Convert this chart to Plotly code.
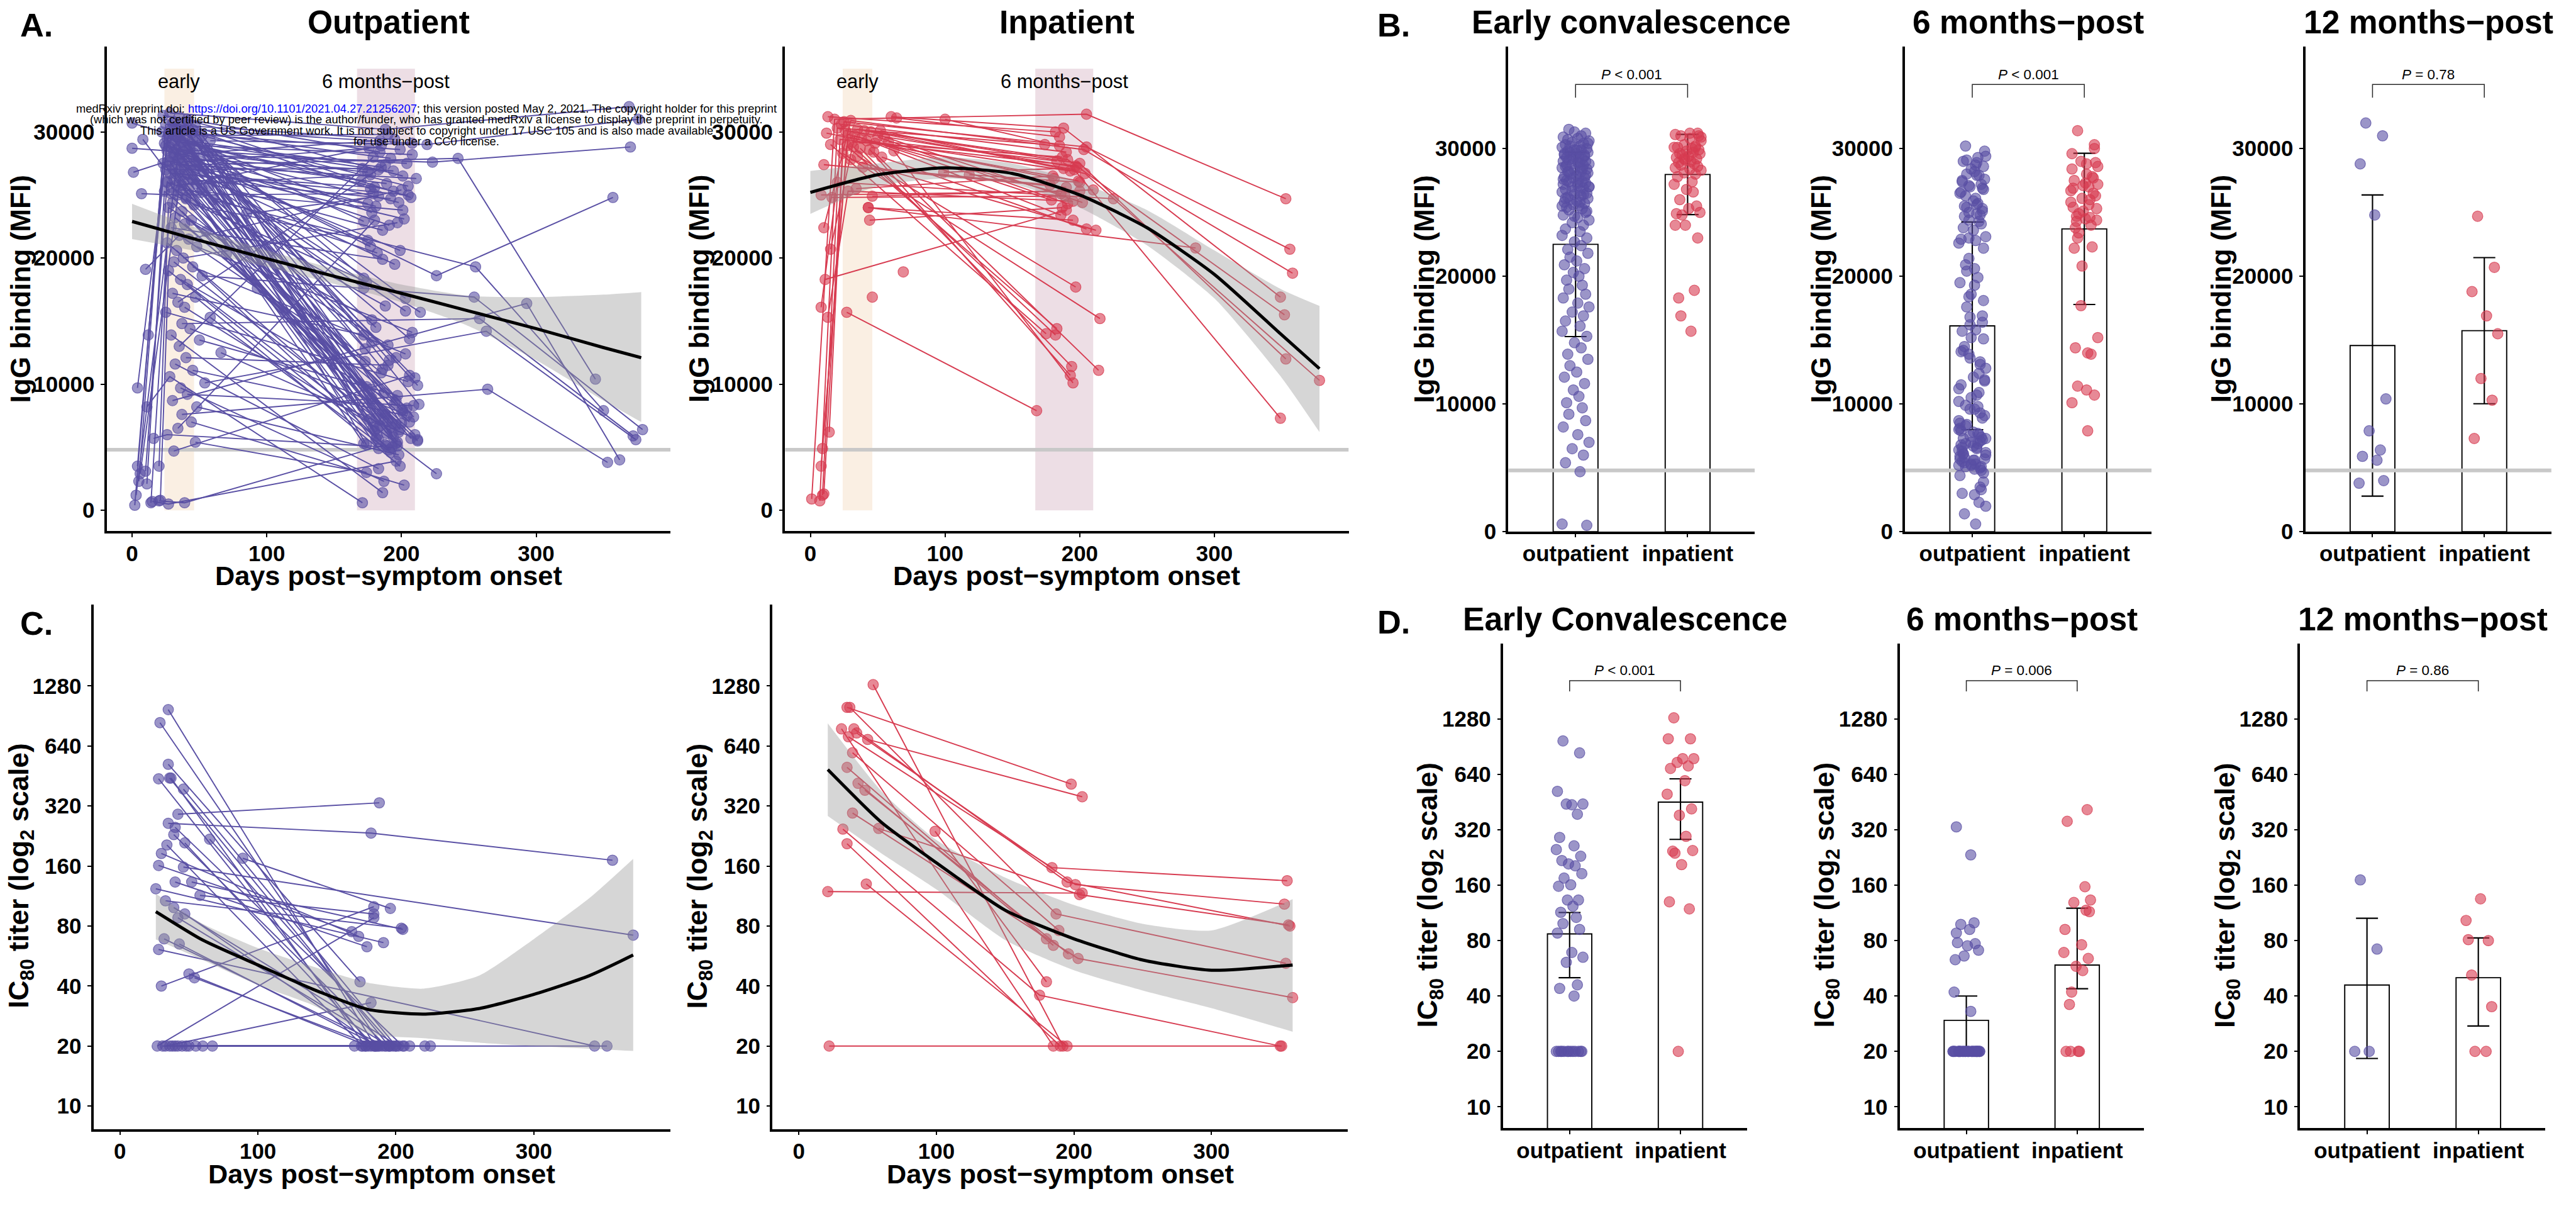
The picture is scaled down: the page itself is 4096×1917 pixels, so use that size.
import plotly.graph_objects as go

# ----------------------------------------------------------------------------
# IgG binding (MFI), outpatients: one entry per subject
# ----------------------------------------------------------------------------
op_igg_early_day = [
    28, 35, 42, 31, 25, 38, 47, 33, 29, 40,
    22, 36, 44, 30, 27, 52, 34, 39, 26, 45,
    32, 58, 37, 24, 43, 30, 49, 35, 28, 41,
    33, 55, 26, 38, 46, 31, 36, 63, 29, 42,
    34, 27, 50, 37, 23, 44, 32, 68, 39, 30,
    47, 25, 35, 53, 28, 41, 36, 75, 31, 45,
    38, 26, 48, 33, 57, 29, 42, 36, 24, 51,
    34, 40, 60, 30, 46, 27, 37, 85, 32, 44,
    39, 29, 55, 35, 42, 26, 48, 33, 70, 38,
    31, 45, 27, 52, 36, 41, 93, 30, 47, 34,
    39, 25, 58, 37, 43, 29, 50, 35, 66, 40,
    32, 45, 28, 54, 36, 41, 30, 48, 37, 44,
    34, 26, 47, 31, 39, 27,
    23, 41, 30, 36, 45, 27, 33, 50, 38, 25,
    43, 31, 56, 35, 28, 47, 39, 32, 44, 26,
    37, 52, 29, 40]
op_igg_early = [
    31500, 31200, 30900, 30800, 30600, 30500, 30400, 30300, 30200, 30100,
    30000, 29900, 29900, 29800, 29700, 29700, 29600, 29500, 29500, 29400,
    29300, 29300, 29200, 29100, 29000, 29000, 28900, 28800, 28800, 28700,
    28600, 28500, 28500, 28400, 28300, 28200, 28200, 28100, 28000, 27900,
    27800, 27700, 27700, 27600, 27500, 27400, 27400, 27300, 27200, 27100,
    27000, 27000, 26900, 26800, 26700, 26600, 26500, 26400, 26300, 26200,
    26100, 26000, 25900, 25800, 25700, 25600, 25500, 25400, 25300, 25200,
    25000, 24800, 24600, 24400, 24200, 24000, 23700, 23500, 23200, 23000,
    22700, 22400, 22100, 21800, 21500, 21200, 20900, 20600, 20300, 20000,
    19700, 19300, 19000, 18600, 18300, 17900, 17600, 17200, 16900, 16500,
    16100, 15700, 15300, 14800, 14400, 13900, 13500, 13000, 12500, 12100,
    11600, 11100, 10600, 10100, 9700, 9200, 8700, 8200, 7600, 7000,
    6500, 6000, 5400, 4700, 600, 500,
    31300, 31000, 30700, 30400, 30200, 29900, 29600, 29400, 29200, 28900,
    28700, 28400, 28200, 27900, 27600, 27300, 27000, 26700, 26400, 26100,
    25800, 25500, 25100, 24700]
op_igg_6m_day = [
    188, 176, 201, 183, 195, 172, 207, 180, 192, 186,
    199, 174, 205, 181, 190, 213, 178, 196, 185, 203,
    170, 219, 188, 177, 194, 182, 208, 173, 198, 187,
    204, 179, 191, 175, 210, 184, 197, 223, 172, 189,
    200, 181, 206, 176, 193, 242, 211, 178, 195, 183,
    202, 171, 190, 214, 180, 199, 186, 226, 174, 192,
    207, 182, 196, 177, 209, 188, 172, 201, 185, 193,
    179, 204, 255, 198, 175, 190, 212, 183, 196, 178,
    206, 186, 194, 173, 200, 184, 208, 191, 177, 197,
    181, 203, 189, 254, 195, 226, 210, 172, 199, 188,
    182, 205, 192, 258, 201, 186, 197, 179, 212, 190,
    183, 204, 171, 263, 187, 209, 293, 198, 264, 202,
    180, 193, 174, 206, 188, 196,
    184, 200, 177, 191, 208, 186, 172, 197, 183, 203,
    189, 175, 212, 194, 181, 199, 187, 205, 178, 192,
    185, 201, 174, 196]
op_igg_6m = [
    30200, 7200, 26500, 5600, 29400, 18400, 24800, 6300, 27900, 11200,
    28600, 5200, 25700, 14500, 29800, 8400, 23600, 6800, 27200, 16800,
    26100, 29000, 7600, 20900, 25300, 5900, 28200, 12800, 24400, 9300,
    27500, 6600, 22600, 26800, 10500, 29300, 5400, 27600, 17600, 25900,
    7900, 24100, 13600, 28700, 6100, 27900, 26300, 8900, 19500, 4900,
    23100, 27100, 7100, 15700, 25600, 6400, 22200, 18600, 9800, 24700,
    5700, 20400, 12100, 26600, 7400, 16200, 5300, 23800, 10900, 6900,
    25100, 8100, 19300, 6200, 21400, 13100, 5500, 24900, 8700, 15100,
    7000, 19900, 5800, 11800, 25400, 6700, 14100, 4800, 9600, 22800,
    7300, 12400, 5100, 16900, 8500, 2900, 6000, 13900, 3500, 27400,
    6500, 10200, 4600, 15200, 7700, 1400, 9100, 28000, 5600, 11500,
    3300, 7500, 600, 14200, 2300, 8300, 16400, 4400, 9600, 2000,
    23000, 5000, 3000, 10700, 5200, 3900,
    28400, 6900, 25500, 11900, 29100, 7800, 22900, 5100, 27000, 15800,
    6100, 24300, 9900, 26900, 5700, 20600, 7300, 25000, 13300, 6600,
    28900, 8000, 18100, 5300]
# samples taken in the first days after symptom onset (subject index)
op_igg_pre_subject = [4, 11, 23, 44, 61, 68, 75, 85, 92, 121, 112, 83, 32, 41, 10, 51, 70, 14, 18, 56, 125, 124]
op_igg_pre_day = [2, 3, 4, 5, 10, 11, 20, 14, 21, 16, 11, 10, 0, 1, 0, 8, 7, 4, 12, 6, 15, 20]
op_igg_pre = [400, 1200, 3500, 2300, 3100, 2100, 3500, 600, 800, 5700, 8200, 19100,
              28700, 26800, 30700, 29400, 25100, 9700, 13900, 2900, 700, 750]
# 12-month follow-up (subject index)
op_igg_12m_subject = [0, 21, 37, 57, 45, 72, 93, 103, 113, 118, 116]
op_igg_12m_day = [369, 376, 370, 357, 344, 350, 379, 372, 374, 353, 362]
op_igg_12m = [32000, 31000, 28800, 24800, 10400, 7900, 6400, 5900, 5600, 3800, 4000]

# ----------------------------------------------------------------------------
# IgG binding (MFI), inpatients
# ----------------------------------------------------------------------------
ip_igg_early_day = [18, 60, 64, 25, 30, 20, 35, 40, 45, 52, 12, 28, 33, 50, 55, 38, 22, 42, 58, 48,
                    15, 27, 32, 37, 44, 62, 47, 24, 35, 53, 30, 10, 39, 100, 99, 118, 20, 8, 16, 28,
                    46, 34, 43, 27, 11, 69, 46, 44, 43, 13, 23, 31, 26]
ip_igg_early = [31000, 31200, 31100, 30800, 30900, 30300, 30200, 30100, 30000, 30100,
                29900, 29800, 29700, 29600, 29600, 29500, 29400, 29300, 29200, 29100,
                29000, 28900, 28800, 28700, 28600, 28500, 28400, 28300, 28100, 28000,
                27800, 27400, 27200, 31000, 26800, 26600, 26000, 25000, 24800, 25300,
                24900, 25500, 24000, 15700, 18300, 18900, 16900, 23000, 24000, 31200,
                30600, 29200, 30100]
ip_igg_6m_day = [205, 188, 185, 205, 203, 174, 191, 200, 196, 204, 181, 186, 179, 191, 202, 186, 197, 193, 183, 199,
                 175, 183, 182, 194, 193, 195, 214, 215, 197, 205, 212, 190, 178, 185, 188, 200, 225, 200, 189, 195,
                 210, 180, 286, 168, 190, None, None, 187, 195, 182, 190, 187, 198]
ip_igg_6m = [31400, 30300, 29600, 28800, 28600, 29000, 27800, 27500, 27000, 26700,
             26300, 25100, 24600, 24300, 24400, 23400, 27300, 26900, 27700, 26100,
             14000, 14400, 13900, 11400, 10700, 10100, 11100, 15200, 17700, 22300,
             22200, 25600, 25800, 28900, 27100, 26000, 24700, 25300, 24900, 24500,
             25400, 26500, 20800, 7900, 23800, None, None, 24000, 23000, 30000,
             28400, 28000, 27200]
ip_igg_pre_subject = [0, 5, 16, 3, 11, 21, 27, 36, 39, 12, 4]
ip_igg_pre_day = [1, 7, 9, 10, 8, 9, 14, 8, 13, 15, 10]
ip_igg_pre = [900, 750, 1200, 1300, 3500, 4900, 6200, 16100, 15300, 20700, 22400]
ip_igg_12m_subject = [0, 3, 4, 1, 6, 7, 9, 8]
ip_igg_12m_day = [353, 356, 358, 349, 352, 353, 378, 349]
ip_igg_12m = [24700, 20700, 18800, 16900, 15500, 12000, 10300, 7300]

IGG_CUTOFF = 4800

# smoothed trend with confidence band
op_igg_fit_day = [0, 50, 100, 150, 200, 250, 300, 350, 378]
op_igg_fit = [22900, 21400, 19950, 18550, 17200, 15800, 14400, 12900, 12100]
op_igg_fit_hi = [24300, 22300, 20600, 19150, 17900, 17000, 16900, 17100, 17300]
op_igg_fit_lo = [21500, 20500, 19300, 17950, 16500, 14600, 11900, 8700, 7000]
ip_igg_fit_day = [0, 50, 100, 150, 200, 250, 300, 350, 378]
ip_igg_fit = [25200, 26600, 27150, 26700, 25000, 22400, 18700, 13900, 11230]
ip_igg_fit_hi = [26900, 27500, 28000, 27500, 26000, 23800, 20600, 17500, 16200]
ip_igg_fit_lo = [23500, 25700, 26300, 25900, 24000, 21000, 16800, 10500, 6200]

# group summaries: mean and SD per visit (outpatient, inpatient)
igg_mean_early = [22500, 27970]
igg_sd_early = [7220, 3140]
igg_mean_6m = [16120, 23710]
igg_sd_6m = [8130, 5920]
igg_mean_12m = [14580, 15740]
igg_sd_12m = [11790, 5720]
igg_p = ["<i>P</i> &lt; 0.001", "<i>P</i> &lt; 0.001", "<i>P</i> = 0.78"]

# ----------------------------------------------------------------------------
# IC80 neutralization titer
# ----------------------------------------------------------------------------
op_ic_early_day = [35, 29, 35, 28, 36, 37, 46, 42, 35, 40, 39, 47, 34, 65, 30, 89, 28, 46, 40, 52,
                   26, 58, 33, 39, 47, 42, 32, 43, 28, 50, 54, 30, 27, 33, 40, 45, 50, 55, 60, 67,
                   31, 36, 42, 48, 38]
op_ic_early = [974, 838, 518, 438, 442, 442, 389, 291, 262, 250, 230, 209, 204, 218, 185, 175, 161, 158,
               133, 133, 123, 114, 107, 99, 92, 88, 69, 65, 61, 46, 44, 40, 20, 20, 20, 20, 20, 20, 20,
               20, 20, 20, 20, 20, 20]
op_ic_6m_day = [185, 190, 174, 182, 195, 178, 200, 188, 182, 205, 193, 184, 176, 198, 173, 196, 168, None,
                179, 205, 191, 184, 204, 202, 186, 195, 192, 187, None, 180, 185, 184, 184, 182, 170, 175,
                196, 200, 210, None, 188, 178, 221, 225, 206]
op_ic_6m = [20, 20, 42, 20, 20, 20, 20, 332, 234, 20, 20, 20, 20, 20, 71, 98, 75, None,
            63, 77, 66, 92, 78, 20, 20, 20, 20, 20, None, 20, 20, 100, 88, 33, 20, 20,
            20, 20, 20, None, 20, 20, 20, 20, 20]
op_ic_12m_subject = [8, 17, 28, 39]
op_ic_12m_day = [357, 372, 344, 353]
op_ic_12m = [171, 72, 20, 20]

ip_ic_early_day = [54, 35, 37, 31, 40, 42, 36, 50, 39, 35, 43, 48, 39, 32, 58, 99, 35, 49, 21, 22]
ip_ic_early = [1300, 1000, 1000, 780, 780, 744, 712, 690, 592, 500, 416, 384, 295, 245, 247, 239, 207, 130, 119, 20]
ip_ic_6m_day = [192, 198, 187, 185, 195, 201, 184, 206, 189, 180, 185, 196, 203, 175, 204, 180, 190, 195, 206, None]
ip_ic_6m = [20, 412, 92, 20, 133, 129, 157, 356, 76, 69, 64, 58, 55, 36, 115, 42, 20, 20, 117, None]
ip_ic_12m_subject = [2, 4, 5, 6, 12, 13, 19, 14]
ip_ic_12m_day = [354, 357, 353, 355, 359, 350, 351, 356]
ip_ic_12m = [52, 80, 103, 135, 35, 20, 20, 81]

op_ic_fit_day = [26, 60, 100, 140, 180, 220, 260, 300, 340, 372]
op_ic_fit = [94.5, 68, 51, 38.5, 30.5, 28.9, 30.8, 36.3, 45, 57.2]
op_ic_fit_hi = [116, 82, 62, 50, 41.5, 38.8, 45, 68.8, 110, 173.7]
op_ic_fit_lo = [68.5, 54, 40.5, 32, 23, 21.9, 20.8, 20, 19.4, 18.9]
ip_ic_fit_day = [21, 60, 100, 150, 200, 250, 300, 359]
ip_ic_fit = [487, 265, 166, 96, 69, 54, 48, 51]
ip_ic_fit_hi = [831, 380, 216, 140, 102, 82, 76, 109]
ip_ic_fit_lo = [285, 185, 122, 68, 48, 38, 31, 23.6]

# group summaries: bar height with lower / upper error limits (outpatient, inpatient)
ic_bar_early = [87, 453]
ic_lo_early = [50.3, 284]
ic_hi_early = [113.7, 606]
ic_bar_6m = [29.5, 58.9]
ic_lo_6m = [21, 43.8]
ic_hi_6m = [40, 120]
ic_bar_12m = [45.9, 50.3]
ic_lo_12m = [18.3, 27.5]
ic_hi_12m = [105.8, 82.8]
ic_p = ["<i>P</i> &lt; 0.001", "<i>P</i> = 0.006", "<i>P</i> = 0.86"]

groups = ["outpatient", "inpatient"]
titer_ticks = [10, 20, 40, 80, 160, 320, 640, 1280]
day_ticks = [0, 100, 200, 300]
igg_ticks = [0, 10000, 20000, 30000]
early_window = [24, 46]
six_month_window = [167, 210]

# ----------------------------------------------------------------------------
# page geometry (design grid of 4922 x 2304, drawn at 4096 x 1917)
# ----------------------------------------------------------------------------
REF_W, REF_H = 4922, 2304
FIG_W, FIG_H = 4096, 1917
K = FIG_W / REF_W


def fx(x):
    return x / REF_W


def fy(y):
    return 1 - y / REF_H


def sz(v):
    return v * K


FONT = "Liberation Sans, Arial, Helvetica, sans-serif"
PURPLE = "rgb(89,79,164)"
RED = "rgb(215,59,80)"
PURPLE_FILL = "rgba(89,79,164,0.6)"
RED_FILL = "rgba(215,59,80,0.6)"
PURPLE_EDGE = "rgba(89,79,164,0.75)"
RED_EDGE = "rgba(215,59,80,0.75)"
RIBBON = "rgba(153,153,153,0.4)"
CUTOFF_COLOR = "rgb(200,200,200)"

# plot areas: left, right, top, bottom
PANELS = {
    "A1": (204, 1281, 89.5, 1025),
    "A2": (1500, 2577, 89.5, 1025),
    "B1": (2882, 3353, 89.5, 1026),
    "B2": (3640, 4111, 89.5, 1026),
    "B3": (4405, 4875, 89.5, 1026),
    "C1": (178.6, 1281, 1166, 2179),
    "C2": (1476, 2575, 1166, 2179),
    "D1": (2872, 3338, 1242, 2177),
    "D2": (3630, 4096, 1242, 2177),
    "D3": (4395, 4863, 1242, 2177),
}
ORDER = ["A1", "A2", "B1", "B2", "B3", "C1", "C2", "D1", "D2", "D3"]
AX = {name: i + 1 for i, name in enumerate(ORDER)}

DAY_RANGE_A = [-18.8, 399.7]
DAY_RANGE_C = [-19.2, 399.0]
IGG_RANGE_A = [-1655, 36776]
IGG_RANGE_B = [0, 38000]
TITER_RANGE = [0.8835, 3.517]
GROUP_RANGE = [0.4, 2.6]


def xref(name):
    i = AX[name]
    return "x" if i == 1 else f"x{i}"


def yref(name):
    i = AX[name]
    return "y" if i == 1 else f"y{i}"


fig = go.Figure()

TICKFONT = dict(family=FONT, size=sz(42), color="black", weight="bold")


def base_axis(standoff, **kw):
    d = dict(showline=True, linecolor="black", linewidth=sz(4.5), mirror=False,
             ticks="outside", ticklen=sz(6.5), tickwidth=sz(2.2), tickcolor="black",
             showgrid=False, zeroline=False, tickfont=TICKFONT, fixedrange=True,
             ticklabelstandoff=standoff)
    d.update(kw)
    return d


layout_axes = {}
for name in ORDER:
    x0, x1, yt, yb = PANELS[name]
    i = AX[name]
    xk = "xaxis" if i == 1 else f"xaxis{i}"
    yk = "yaxis" if i == 1 else f"yaxis{i}"
    kind = name[0]
    if kind in "AC":
        xa = base_axis(-4, range=DAY_RANGE_A if kind == "A" else DAY_RANGE_C,
                       tickvals=day_ticks, ticktext=[str(t) for t in day_ticks])
    else:
        xa = base_axis(-4, range=GROUP_RANGE, tickvals=[1, 2], ticktext=groups)
    if kind in "AB":
        ya = base_axis(3, range=IGG_RANGE_A if kind == "A" else IGG_RANGE_B,
                       tickvals=igg_ticks, ticktext=[str(t) for t in igg_ticks])
    else:
        ya = base_axis(3, type="log", range=TITER_RANGE, tickvals=titer_ticks,
                       ticktext=[str(t) for t in titer_ticks])
    xa.update(domain=[fx(x0), fx(x1)], anchor=yref(name))
    ya.update(domain=[fy(yb), fy(yt)], anchor=xref(name))
    layout_axes[xk] = xa
    layout_axes[yk] = ya


def collect_paths(early_day, early, m6_day, m6, extras):
    pts = [[] for _ in early_day]
    for i, (d, v) in enumerate(zip(early_day, early)):
        if d is not None:
            pts[i].append((d, v))
    for i, (d, v) in enumerate(zip(m6_day, m6)):
        if d is not None:
            pts[i].append((d, v))
    for subj, days, vals in extras:
        for s, d, v in zip(subj, days, vals):
            pts[s].append((d, v))
    lx, ly, mx, my = [], [], [], []
    for seq in pts:
        seq = sorted(seq)
        for d, v in seq:
            lx.append(d)
            ly.append(v)
            mx.append(d)
            my.append(v)
        lx.append(None)
        ly.append(None)
    return lx, ly, mx, my


def trajectory_panel(name, paths, color, fill, edge, fit, cutoff=None, xrng=None):
    xr, yr = xref(name), yref(name)
    if cutoff is not None:
        fig.add_trace(go.Scatter(x=xrng, y=[cutoff, cutoff], mode="lines",
                                 line=dict(color=CUTOFF_COLOR, width=sz(7)),
                                 xaxis=xr, yaxis=yr, hoverinfo="skip"))
    lx, ly, mx, my = paths
    fig.add_trace(go.Scatter(x=lx, y=ly, mode="lines", connectgaps=False,
                             line=dict(color=color, width=sz(2.3)),
                             xaxis=xr, yaxis=yr, hoverinfo="skip"))
    fig.add_trace(go.Scatter(x=mx, y=my, mode="markers",
                             marker=dict(size=sz(20), color=fill, line=dict(color=edge, width=sz(1.5))),
                             xaxis=xr, yaxis=yr, hoverinfo="skip"))
    fd, fv, flo, fhi = fit
    # confidence band: lower edge, then upper edge filled down to it
    fig.add_trace(go.Scatter(x=fd, y=flo, mode="lines",
                             line=dict(width=0, shape="spline", smoothing=0.6, color=RIBBON),
                             xaxis=xr, yaxis=yr, hoverinfo="skip"))
    fig.add_trace(go.Scatter(x=fd, y=fhi, mode="lines", fill="tonexty", fillcolor=RIBBON,
                             line=dict(width=0, shape="spline", smoothing=0.6, color=RIBBON),
                             xaxis=xr, yaxis=yr, hoverinfo="skip"))
    fig.add_trace(go.Scatter(x=fd, y=fv, mode="lines",
                             line=dict(color="black", width=sz(6), shape="spline", smoothing=0.6),
                             xaxis=xr, yaxis=yr, hoverinfo="skip"))


# ---- A: IgG trajectories ----
trajectory_panel("A1",
                 collect_paths(op_igg_early_day, op_igg_early, op_igg_6m_day, op_igg_6m,
                               [(op_igg_pre_subject, op_igg_pre_day, op_igg_pre),
                                (op_igg_12m_subject, op_igg_12m_day, op_igg_12m)]),
                 PURPLE, PURPLE_FILL, PURPLE_EDGE,
                 (op_igg_fit_day, op_igg_fit, op_igg_fit_lo, op_igg_fit_hi),
                 cutoff=IGG_CUTOFF, xrng=DAY_RANGE_A)
trajectory_panel("A2",
                 collect_paths(ip_igg_early_day, ip_igg_early, ip_igg_6m_day, ip_igg_6m,
                               [(ip_igg_pre_subject, ip_igg_pre_day, ip_igg_pre),
                                (ip_igg_12m_subject, ip_igg_12m_day, ip_igg_12m)]),
                 RED, RED_FILL, RED_EDGE,
                 (ip_igg_fit_day, ip_igg_fit, ip_igg_fit_lo, ip_igg_fit_hi),
                 cutoff=IGG_CUTOFF, xrng=DAY_RANGE_A)

# ---- C: IC80 trajectories ----
trajectory_panel("C1",
                 collect_paths(op_ic_early_day, op_ic_early, op_ic_6m_day, op_ic_6m,
                               [(op_ic_12m_subject, op_ic_12m_day, op_ic_12m)]),
                 PURPLE, PURPLE_FILL, PURPLE_EDGE,
                 (op_ic_fit_day, op_ic_fit, op_ic_fit_lo, op_ic_fit_hi))
trajectory_panel("C2",
                 collect_paths(ip_ic_early_day, ip_ic_early, ip_ic_6m_day, ip_ic_6m,
                               [(ip_ic_12m_subject, ip_ic_12m_day, ip_ic_12m)]),
                 RED, RED_FILL, RED_EDGE,
                 (ip_ic_fit_day, ip_ic_fit, ip_ic_fit_lo, ip_ic_fit_hi))

# ---- B / D: visit summaries ----
SPREAD = [-0.06, 0.09, -0.11, 0.02, 0.12, -0.03, 0.07, -0.09, 0.04, -0.12, 0.10, -0.01,
          0.05, -0.07, 0.11, -0.05, 0.01, -0.10, 0.08, -0.02, 0.03, -0.08, 0.06]


def present(values):
    return [v for v in values if v is not None]


def summary_panel(name, out_vals, in_vals, bar, err_plus, err_minus, log_axis=False, cutoff=None):
    xr, yr = xref(name), yref(name)
    bar_kw = dict(x=[1, 2], y=bar, width=0.4,
                  marker=dict(color="white", line=dict(color="black", width=sz(2.3))),
                  error_y=dict(type="data", symmetric=False, array=err_plus, arrayminus=err_minus,
                               color="black", thickness=sz(2.6), width=sz(21)),
                  xaxis=xr, yaxis=yr, hoverinfo="skip")
    if log_axis:
        bar_kw["base"] = 1
        bar_kw["y"] = [b - 1 for b in bar]
    fig.add_trace(go.Bar(**bar_kw))
    if cutoff is not None:
        fig.add_trace(go.Scatter(x=GROUP_RANGE, y=[cutoff, cutoff], mode="lines",
                                 line=dict(color=CUTOFF_COLOR, width=sz(7)),
                                 xaxis=xr, yaxis=yr, hoverinfo="skip"))
    for pos, vals, fill, edge in [(1, present(out_vals), PURPLE_FILL, PURPLE_EDGE),
                                  (2, present(in_vals), RED_FILL, RED_EDGE)]:
        xs = [pos + SPREAD[i % len(SPREAD)] for i in range(len(vals))]
        fig.add_trace(go.Scatter(x=xs, y=vals, mode="markers",
                                 marker=dict(size=sz(20), color=fill, line=dict(color=edge, width=sz(1.5))),
                                 xaxis=xr, yaxis=yr, hoverinfo="skip"))


summary_panel("B1", op_igg_early, ip_igg_early, igg_mean_early, igg_sd_early, igg_sd_early, cutoff=IGG_CUTOFF)
summary_panel("B2", op_igg_6m, ip_igg_6m, igg_mean_6m, igg_sd_6m, igg_sd_6m, cutoff=IGG_CUTOFF)
summary_panel("B3", op_igg_12m, ip_igg_12m, igg_mean_12m, igg_sd_12m, igg_sd_12m, cutoff=IGG_CUTOFF)


def asym(bar, lo, hi):
    return [h - b for b, h in zip(bar, hi)], [b - l for b, l in zip(bar, lo)]


for name, out_v, in_v, bar, lo, hi in [
        ("D1", op_ic_early, ip_ic_early, ic_bar_early, ic_lo_early, ic_hi_early),
        ("D2", op_ic_6m, ip_ic_6m, ic_bar_6m, ic_lo_6m, ic_hi_6m),
        ("D3", op_ic_12m, ip_ic_12m, ic_bar_12m, ic_lo_12m, ic_hi_12m)]:
    plus, minus = asym(bar, lo, hi)
    summary_panel(name, out_v, in_v, bar, plus, minus, log_axis=True)

# ---------------------------------------------------------------------------
# shapes: visit windows and significance brackets
# ---------------------------------------------------------------------------
shapes = []
for name in ["A1", "A2"]:
    for (a, b), col in [(early_window, "rgb(250,239,227)"), (six_month_window, "rgb(237,222,229)")]:
        shapes.append(dict(type="rect", xref=xref(name), yref=yref(name), x0=a, x1=b, y0=0, y1=35000,
                           fillcolor=col, line=dict(width=0), layer="below"))

annotations = []


def bracket(name, y_bar, y_leg, y_text, label):
    shapes.append(dict(type="path", xref=xref(name), yref="paper",
                       path=f"M 1,{fy(y_leg)} L 1,{fy(y_bar)} L 2,{fy(y_bar)} L 2,{fy(y_leg)}",
                       line=dict(color="rgb(40,40,40)", width=sz(1.8))))
    annotations.append(dict(x=1.5, y=fy(y_text), xref=xref(name), yref="paper", text=label,
                            showarrow=False, xanchor="center", yanchor="middle",
                            font=dict(family=FONT, size=sz(27), color="black")))


for name, lab in zip(["B1", "B2", "B3"], igg_p):
    bracket(name, 163, 188.5, 144, lab)
for name, lab in zip(["D1", "D2", "D3"], ic_p):
    bracket(name, 1313.4, 1334, 1294, lab)


def text(x, y, s, size, bold=True, anchor="center", angle=0, color="black"):
    annotations.append(dict(x=fx(x), y=fy(y), xref="paper", yref="paper", text=s, showarrow=False,
                            xanchor=anchor, yanchor="middle", textangle=angle,
                            font=dict(family=FONT, size=sz(size), color=color,
                                      weight="bold" if bold else "normal")))


# panel letters
text(36, 48, "A.", 63, anchor="left")
text(2629, 48, "B.", 63, anchor="left")
text(36, 1203, "C.", 63, anchor="left")
text(2629, 1200, "D.", 63, anchor="left")

# panel titles
for name, t in [("A1", "Outpatient"), ("A2", "Inpatient"), ("B1", "Early convalescence"),
                ("B2", "6 months\u2212post"), ("B3", "12 months\u2212post")]:
    x0, x1, _, _ = PANELS[name]
    text((x0 + x1) / 2, 42, t, 62)
for name, t in [("D1", "Early Convalescence"), ("D2", "6 months\u2212post"), ("D3", "12 months\u2212post")]:
    x0, x1, _, _ = PANELS[name]
    text((x0 + x1) / 2, 1194, t, 62)

# x-axis titles
for name, yy in [("A1", 1111), ("A2", 1111), ("C1", 2265), ("C2", 2265)]:
    x0, x1, _, _ = PANELS[name]
    text((x0 + x1) / 2, yy, "Days post\u2212symptom onset", 52)

# y-axis titles
for name, off in [("A1", 165), ("A2", 165), ("B1", 161), ("B2", 161), ("B3", 161)]:
    x0, _, yt, yb = PANELS[name]
    text(x0 - off, (yt + yb) / 2, "IgG binding (MFI)", 53, angle=-90)
for name, off, dy in [("C1", 140, 18), ("C2", 140, 18), ("D1", 140, 18), ("D2", 140, 18), ("D3", 140, 18)]:
    x0, _, yt, yb = PANELS[name]
    text(x0 - off, (yt + yb) / 2 + dy, "IC<sub>80</sub> titer (log<sub>2</sub> scale)", 53, angle=-90)

# visit window labels
for name in ["A1", "A2"]:
    for (a, b), lab in [(early_window, "early"), (six_month_window, "6 months\u2212post")]:
        annotations.append(dict(x=(a + b) / 2, y=34000, xref=xref(name), yref=yref(name), text=lab,
                                showarrow=False, xanchor="center", yanchor="middle",
                                font=dict(family=FONT, size=sz(37), color="black")))

# preprint notice printed across the top of the page
notice = [
    'medRxiv preprint doi: <span style="color:#0000ff">https://doi.org/10.1101/2021.04.27.21256207</span>; '
    'this version posted May 2, 2021. The copyright holder for this preprint',
    '(which was not certified by peer review) is the author/funder, who has granted medRxiv a license to '
    'display the preprint in perpetuity.',
    'This article is a US Government work. It is not subject to copyright under 17 USC 105 and is also made available',
    'for use under a CC0 license.',
]
for line, yy in zip(notice, [209, 230, 251.5, 273]):
    text(815, yy, line, 22, bold=False)

fig.update_layout(
    width=FIG_W, height=FIG_H, autosize=False,
    margin=dict(l=0, r=0, t=0, b=0, pad=0),
    paper_bgcolor="white", plot_bgcolor="white",
    showlegend=False, barmode="overlay",
    font=dict(family=FONT, color="black"),
    shapes=shapes, annotations=annotations,
    **layout_axes,
)

fig.write_html("out.html")
